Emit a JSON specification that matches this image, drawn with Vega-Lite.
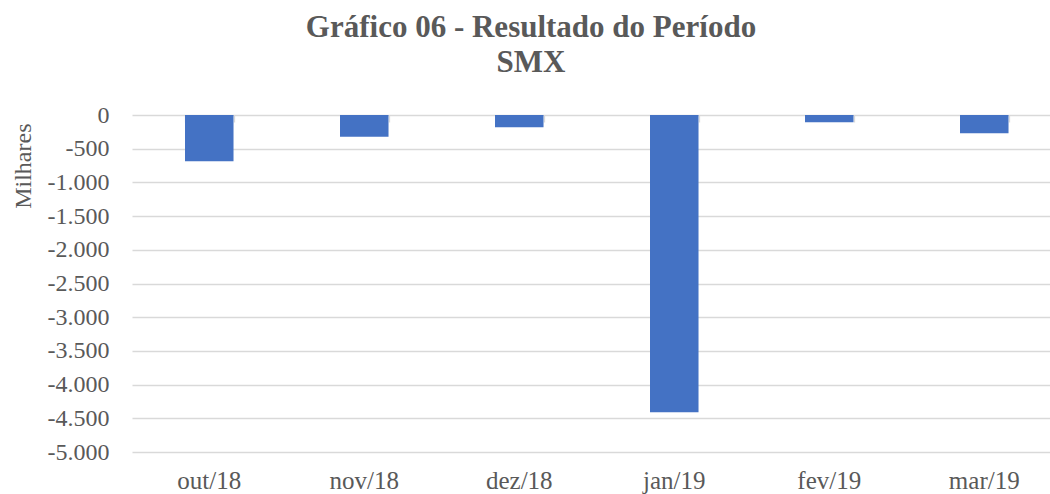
{
  "$schema": "https://vega.github.io/schema/vega-lite/v6.json",
  "autosize": "none",
  "width": 918,
  "height": 337,
  "padding": {"left": 132, "top": 115, "right": 0, "bottom": 42},
  "background": "white",
  "title": {
    "text": ["Gráfico 06 - Resultado do Período", "SMX"],
    "font": "Liberation Serif",
    "fontSize": 31,
    "fontWeight": "bold",
    "color": "#595959",
    "anchor": "middle",
    "frame": "group",
    "dx": -60,
    "lineHeight": 35,
    "offset": 24
  },
  "data": {
    "values": [
      {"mes": "out/18", "valor": -685},
      {"mes": "nov/18", "valor": -322},
      {"mes": "dez/18", "valor": -183},
      {"mes": "jan/19", "valor": -4411},
      {"mes": "fev/19", "valor": -106},
      {"mes": "mar/19", "valor": -272}
    ]
  },
  "encoding": {
    "y": {
      "field": "valor",
      "type": "quantitative",
      "scale": {"domain": [-5000, 0], "nice": false, "zero": false},
      "axis": {
        "title": "Milhares",
        "titleFont": "Liberation Serif",
        "titleFontSize": 24,
        "titleFontWeight": "normal",
        "titleColor": "#595959",
        "titleAngle": -90,
        "titleX": -102,
        "titleY": 8,
        "titleAlign": "right",
        "titleBaseline": "alphabetic",
        "values": [0, -500, -1000, -1500, -2000, -2500, -3000, -3500, -4000, -4500, -5000],
        "labelOverlap": false,
        "labelExpr": "replace(replace(format(datum.value, ','), ',', '.'), '\u2212', '-')",
        "labelFont": "Liberation Serif",
        "labelFontSize": 24,
        "labelColor": "#595959",
        "labelPadding": 23,
        "domain": false,
        "ticks": false,
        "tickSize": 0,
        "grid": true,
        "gridColor": "#d9d9d9",
        "gridWidth": 1.3
      }
    }
  },
  "layer": [
    {
      "mark": {"type": "bar", "color": "#4472C4"},
      "encoding": {
        "x": {
          "field": "mes",
          "type": "nominal",
          "sort": null,
          "scale": {"paddingInner": 0.687, "paddingOuter": 0.3048, "align": 0.561},
          "axis": {
            "orient": "bottom",
            "title": null,
            "labelAngle": 0,
            "domain": false,
            "ticks": false,
            "grid": false,
            "labelPadding": 16,
            "labelFont": "Liberation Serif",
            "labelFontSize": 25,
            "labelColor": "#595959"
          }
        }
      }
    },
    {
      "mark": {"type": "bar", "opacity": 0},
      "encoding": {
        "x": {
          "field": "mes",
          "type": "nominal",
          "sort": null,
          "axis": {
            "orient": "top",
            "title": null,
            "labels": false,
            "domain": false,
            "grid": false,
            "ticks": true,
            "tickBand": "extent",
            "tickSize": -7,
            "tickColor": "#d9d9d9",
            "tickWidth": 1.3
          }
        }
      }
    }
  ],
  "resolve": {"axis": {"x": "independent"}},
  "config": {"view": {"stroke": null}}
}
